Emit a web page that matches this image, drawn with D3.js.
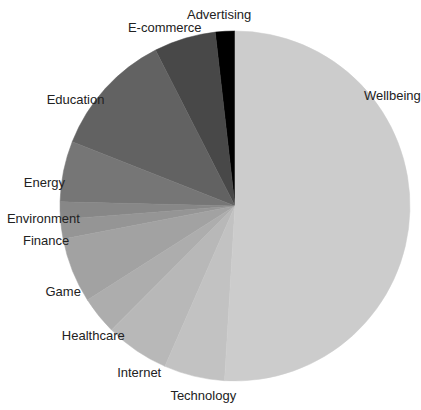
<!DOCTYPE html>
<html>
<head>
<meta charset="utf-8">
<script src="https://cdn.jsdelivr.net/npm/d3@7"></script>
<style>
  body { margin: 0; background: #fff; }
  text { font-family: "Liberation Sans", Arial, sans-serif; font-size: 13px; fill: #222; }
</style>
</head>
<body>
<div id="chart"></div>
<script>
// categories in drawing order (counter-clockwise from the top)
const categories = ["Advertising", "E-commerce", "Education", "Energy", "Environment",
  "Finance", "Game", "Healthcare", "Internet", "Technology", "Wellbeing"];
const values = [1.8, 5.7, 11.5, 5.6, 1.6, 1.8, 6.0, 3.5, 5.9, 5.6, 50.9];

const width = 421, height = 410;
const cx = 235, cy = 206, radius = 175, labelRadius = 192;

// grey ramp like R's gray.colors(n, start = 0, end = 0.8)
const n = categories.length;
const greys = d3.range(n).map(i => {
  const v = Math.pow(i / (n - 1) * Math.pow(0.8, 2.2), 1 / 2.2);
  const c = Math.round(v * 255);
  return d3.rgb(c, c, c).formatHex();
});
const color = d3.scaleOrdinal().domain(categories).range(greys);

const svg = d3.select("#chart").append("svg")
  .attr("width", width)
  .attr("height", height);

const g = svg.append("g").attr("transform", `translate(${cx},${cy})`);

const pie = d3.pie()
  .sort(null)
  .value(d => d.value)
  .startAngle(0)
  .endAngle(-2 * Math.PI);

const data = categories.map((c, i) => ({ name: c, value: values[i] }));
const arcs = pie(data);

const arc = d3.arc().innerRadius(0).outerRadius(radius);

g.selectAll("path")
  .data(arcs)
  .enter()
  .append("path")
  .attr("d", arc)
  .attr("fill", d => color(d.data.name))
  .attr("stroke", d => color(d.data.name))
  .attr("stroke-width", 0.5);

// labels sit a little past the rim, turned a few degrees further round (degrees)
const nudge = { Advertising: 1.5, "E-commerce": 4.7, Education: 8.4, Energy: 4.4, Environment: 2.3,
  Finance: 2.6, Game: 4.8, Healthcare: 3.6, Internet: 4.3, Technology: 4, Wellbeing: 36.7 };
g.selectAll("text")
  .data(arcs)
  .enter()
  .append("text")
  .attr("text-anchor", "middle")
  .attr("dominant-baseline", "central")
  .attr("transform", d => {
    const a = (d.startAngle + d.endAngle) / 2 - (nudge[d.data.name] || 0) * Math.PI / 180;
    return `translate(${labelRadius * Math.sin(a)},${-labelRadius * Math.cos(a)})`;
  })
  .text(d => d.data.name);
</script>
</body>
</html>
